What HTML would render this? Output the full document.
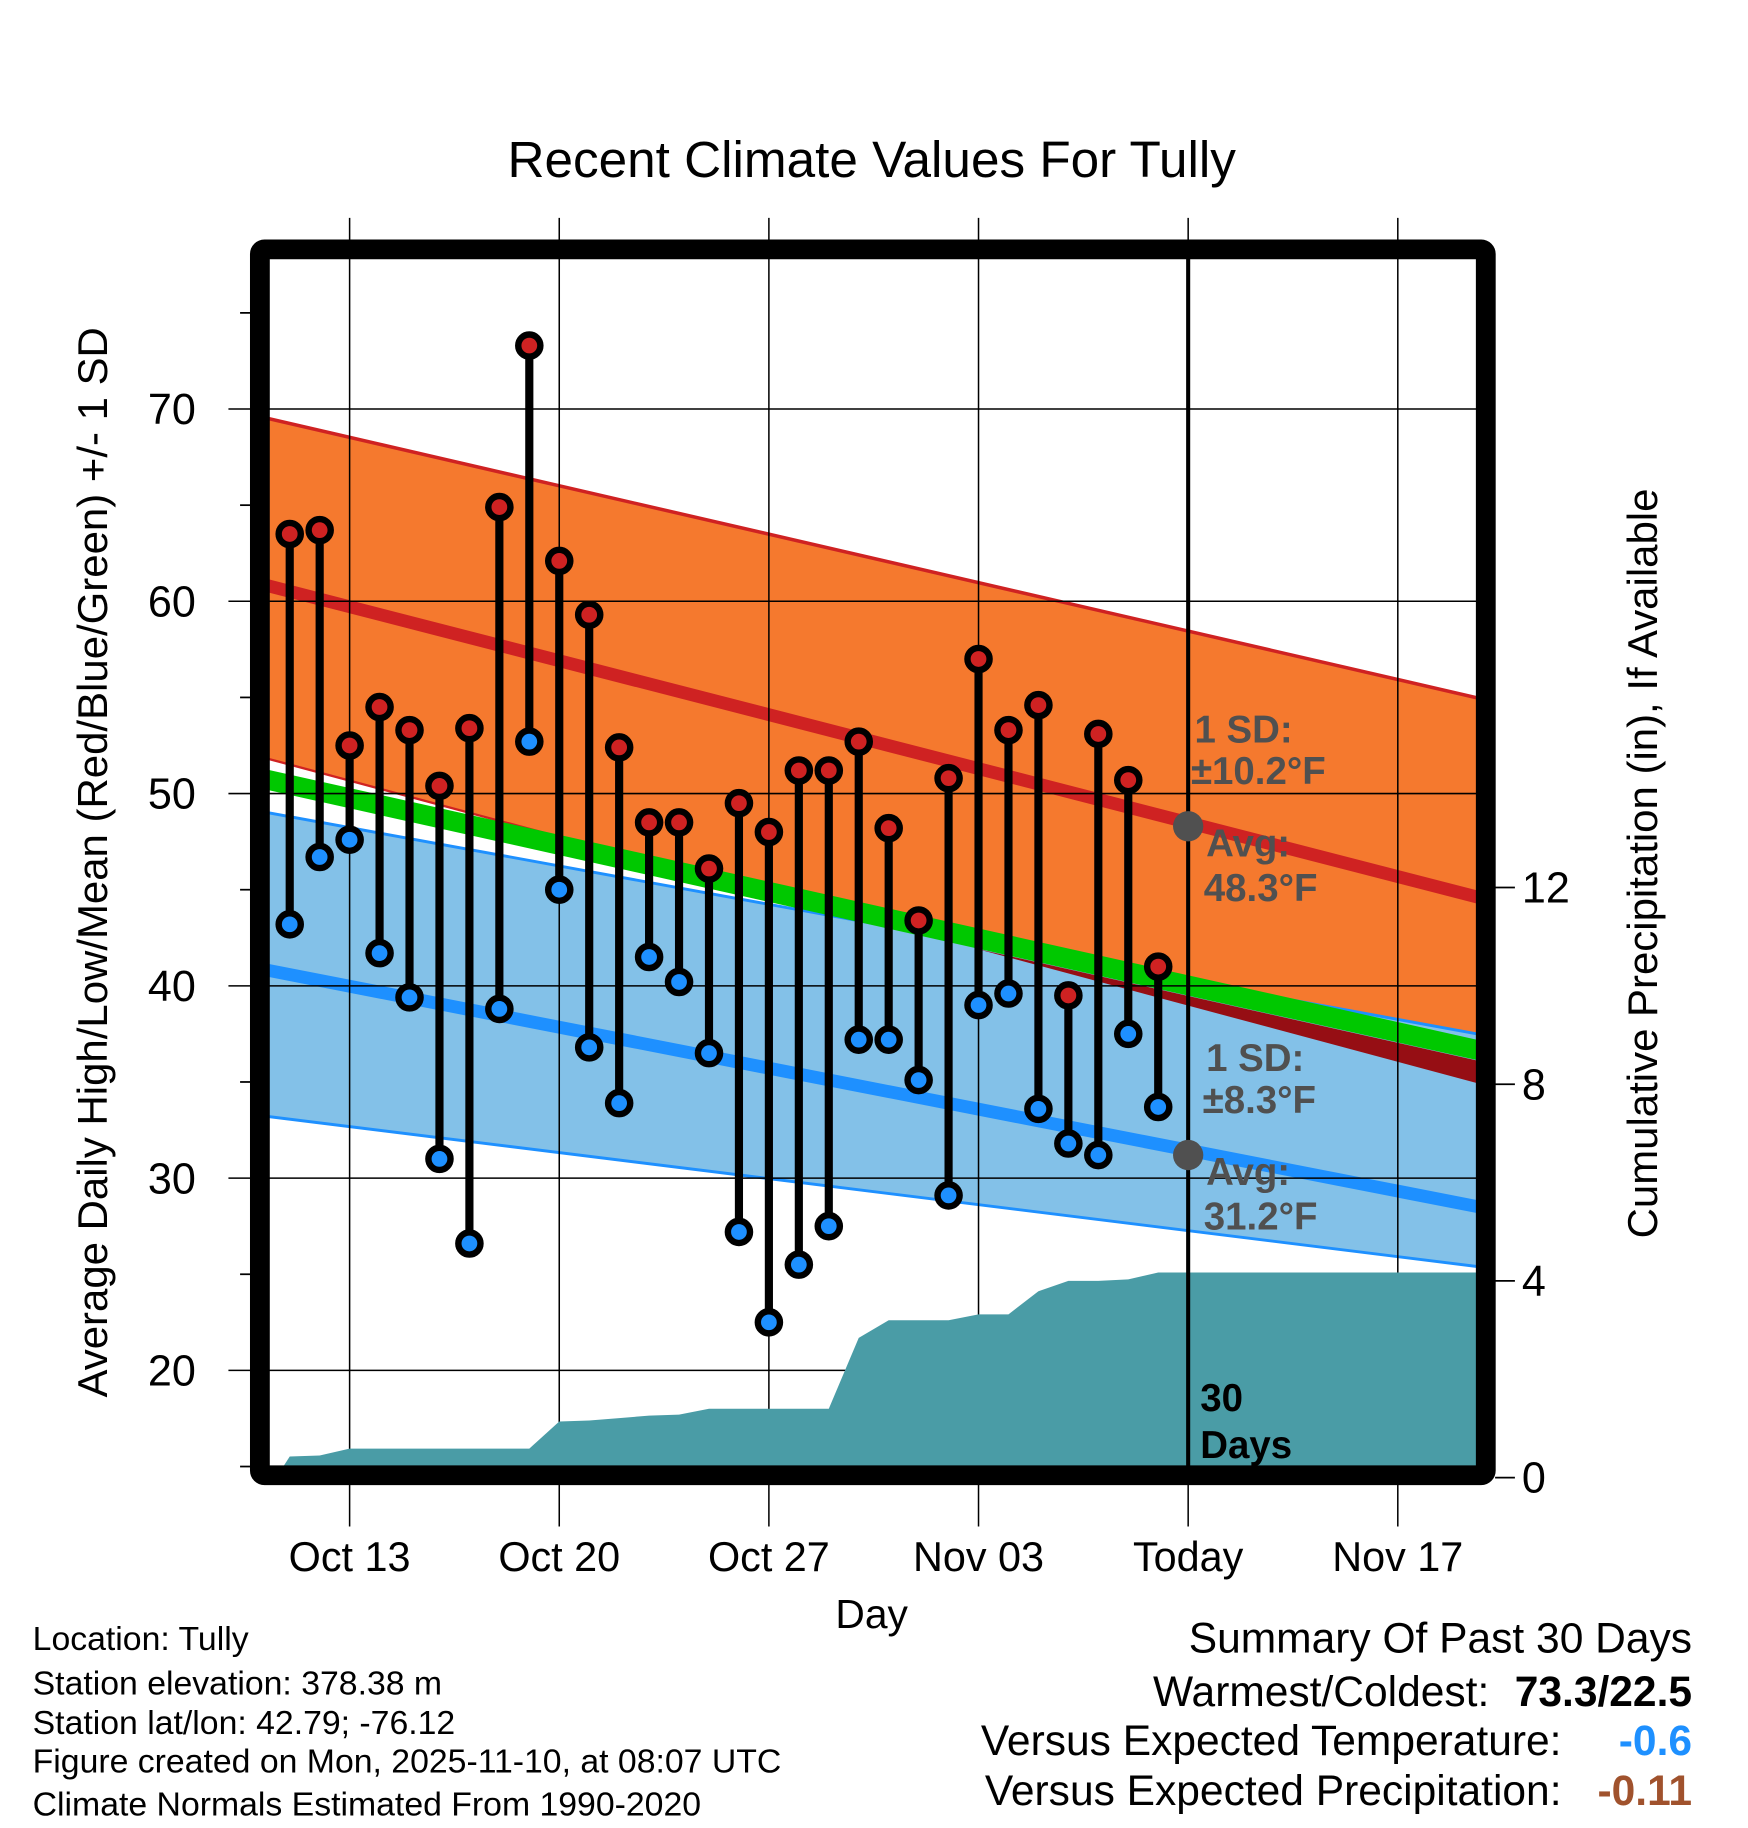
<!DOCTYPE html>
<html><head><meta charset="utf-8"><style>
html,body{margin:0;padding:0;background:#fff;}
svg{display:block;font-family:"Liberation Sans",Arial,sans-serif;}
</style></head>
<body>
<svg id="chart" width="1748" height="1828" viewBox="0 0 1500 1568.7" xmlns="http://www.w3.org/2000/svg">
<defs><clipPath id="plotclip"><rect x="231" y="222" width="1037" height="1036"/></clipPath></defs>
<g id="bands" clip-path="url(#plotclip)"></g>
<g id="grid"></g>
<g id="precip" clip-path="url(#plotclip)"></g>
<g id="marks"></g>
<g id="axes"></g>
<text x="748" y="152" text-anchor="middle" font-size="44">Recent Climate Values For Tully</text>
<text transform="translate(92,740) rotate(-90)" text-anchor="middle" font-size="36">Average Daily High/Low/Mean (Red/Blue/Green) +/- 1 SD</text>
<text transform="translate(1422,741) rotate(-90)" text-anchor="middle" font-size="36">Cumulative Precipitation (in), If Available</text>
<text x="748" y="1397" text-anchor="middle" font-size="35">Day</text>
<g font-size="29">
<text x="28" y="1416">Location: Tully</text>
<text x="28" y="1454">Station elevation: 378.38 m</text>
<text x="28" y="1488">Station lat/lon: 42.79; -76.12</text>
<text x="28" y="1521">Figure created on Mon, 2025-11-10, at 08:07 UTC</text>
<text x="28" y="1558">Climate Normals Estimated From 1990-2020</text>
</g>
<g font-size="36.5">
<text x="1452" y="1418" text-anchor="end">Summary Of Past 30 Days</text>
<text x="1278" y="1464" text-anchor="end">Warmest/Coldest:</text>
<text x="1452" y="1464" text-anchor="end" font-weight="bold">73.3/22.5</text>
<text x="1340" y="1506" text-anchor="end">Versus Expected Temperature:</text>
<text x="1452" y="1506" text-anchor="end" font-weight="bold" fill="#1e90ff">-0.6</text>
<text x="1340" y="1549" text-anchor="end">Versus Expected Precipitation:</text>
<text x="1452" y="1549" text-anchor="end" font-weight="bold" fill="#a0522d">-0.11</text>
</g>
</svg>
<script>
// ---- data ----
const days = ["Oct 11","Oct 12","Oct 13","Oct 14","Oct 15","Oct 16","Oct 17","Oct 18","Oct 19","Oct 20","Oct 21","Oct 22","Oct 23","Oct 24","Oct 25","Oct 26","Oct 27","Oct 28","Oct 29","Oct 30","Oct 31","Nov 01","Nov 02","Nov 03","Nov 04","Nov 05","Nov 06","Nov 07","Nov 08","Nov 09"];
const highs = [63.5,63.7,52.5,54.5,53.3,50.4,53.4,64.9,73.3,62.1,59.3,52.4,48.5,48.5,46.1,49.5,48.0,51.2,51.2,52.7,48.2,43.4,50.8,57.0,53.3,54.6,39.5,53.1,50.7,41.0];
const lows = [43.2,46.7,47.6,41.7,39.4,31.0,26.6,38.8,52.7,45.0,36.8,33.9,41.5,40.2,36.5,27.2,22.5,25.5,27.5,37.2,37.2,35.1,29.1,39.0,39.6,33.6,31.8,31.2,37.5,33.7];
const precipCum = [0.43,0.45,0.59,0.59,0.59,0.59,0.59,0.59,0.59,1.14,1.16,1.21,1.26,1.28,1.40,1.40,1.40,1.40,1.40,2.84,3.20,3.20,3.20,3.32,3.32,3.79,4.0,4.0,4.03,4.17];
const normEdges = [-0.7, 40.7];
const highSDTop = [69.5, 54.6];
const highMean = [60.8, 44.2];
const highSDLow = [51.8, 34.5];
const meanTemp = [50.7, 36.3];
const lowSDTop = [49.0, 37.2];
const lowMean = [40.8, 28.2];
const lowSDLow = [33.2, 25.2];
const yTicks = [20,30,40,50,60,70];
const yMinor = [15,25,35,45,55,65,75];
const pTicks = [0,4,8,12];
const xTickDays = [2,9,16,23,30,37];
const xTickLabels = ["Oct 13","Oct 20","Oct 27","Nov 03","Today","Nov 17"];
const todayDay = 30;
const todayHighMean = 48.3, todayLowMean = 31.2;

// ---- scales ----
const X = d => 248.6 + 25.7*d;
const Y = t => 681 - (t-50)*16.5;
const P = p => 1268 - p*42.2;
const L = 231, R = 1268, T = 222, B = 1258;
const NS = "http://www.w3.org/2000/svg";
function mk(parent, tag, attrs){const e=document.createElementNS(NS,tag);for(const k in attrs)e.setAttribute(k,attrs[k]);parent.appendChild(e);return e;}
const lineAt=(arr,x)=>{const x0=X(normEdges[0]),x1=X(normEdges[1]);return arr[0]+(arr[1]-arr[0])*(x-x0)/(x1-x0);};

// ---- bands ----
const bands=document.getElementById('bands');
const ex0=X(normEdges[0])-10, ex1=X(normEdges[1])+10;
function band(top,bot,fill,name){
  const p=mk(bands,'polygon',{points:`${ex0},${Y(lineAt(top,ex0))} ${ex1},${Y(lineAt(top,ex1))} ${ex1},${Y(lineAt(bot,ex1))} ${ex0},${Y(lineAt(bot,ex0))}`,fill:fill});
  
  
}
function nline(arr,stroke,w,name){
  const l=mk(bands,'line',{x1:ex0,y1:Y(lineAt(arr,ex0)),x2:ex1,y2:Y(lineAt(arr,ex1)),stroke:stroke,'stroke-width':w});
  
  
}
band(highSDTop,highSDLow,'#f5792e','high-sd-band');
nline(highSDLow,'#cf2222',2,'high-sd-low-edge');
band(lowSDTop,lowSDLow,'#83c1e8','low-sd-band');
nline(lowSDTop,'#1e90ff',2.5,'low-sd-top-edge');
nline(lowSDLow,'#1e90ff',2.5,'low-sd-low-edge');
{
  const gb=[meanTemp[0]-0.55,meanTemp[1]-0.55];
  const dl=highSDLow[0]-gb[0], dr=highSDLow[1]-gb[1];
  const f=dl/(dl-dr);
  const xc=ex0+(ex1-ex0)*f;
  const p=mk(bands,'polygon',{points:`${xc},${Y(lineAt(gb,xc))} ${ex1},${Y(lineAt(highSDLow,ex1))} ${ex1},${Y(lineAt(gb,ex1))}`,fill:'#960e14'});
  
  
}
nline(meanTemp,'#00c800',17,'mean-temp-line');
nline(highSDTop,'#cf2222',3,'high-sd-top-edge');
nline(highMean,'#cf2222',11,'high-mean-line');
nline(lowMean,'#1e90ff',11,'low-mean-line');

// ---- grid ----
const grid=document.getElementById('grid');
yTicks.forEach(t=>{
  const l=mk(grid,'line',{x1:196,y1:Y(t),x2:R,y2:Y(t),stroke:'#000','stroke-width':1.3});
  
  
});
xTickDays.forEach(d=>{
  const l=mk(grid,'line',{x1:X(d),y1:187,x2:X(d),y2:1310,stroke:'#000','stroke-width':1.3});
  
  
});

// ---- precip ----
const pg=document.getElementById('precip');
{
  let pts=`${X(-0.5)},${B+12} `;
  precipCum.forEach((v,i)=>{pts+=`${X(i)},${P(v)} `;});
  pts+=`${R+5},${P(precipCum[precipCum.length-1])} ${R+5},${B+12}`;
  const p=mk(pg,'polygon',{points:pts,fill:'#4a9ca6'});
  
  
}

// ---- marks ----
const mg=document.getElementById('marks');
{
  const tl=mk(mg,'line',{x1:X(todayDay),y1:T,x2:X(todayDay),y2:B,stroke:'#000','stroke-width':3.5});
  
  
}
highs.forEach((h,i)=>{
  const lo=lows[i];
  const s=mk(mg,'line',{x1:X(i),y1:Y(h),x2:X(i),y2:Y(lo),stroke:'#000','stroke-width':7});
  
  
  const hc=mk(mg,'circle',{cx:X(i),cy:Y(h),r:9.5,fill:'#cf2222',stroke:'#000','stroke-width':5.5});
  
  
  const lc=mk(mg,'circle',{cx:X(i),cy:Y(lo),r:9.5,fill:'#1e90ff',stroke:'#000','stroke-width':5.5});
  
  
});
[todayHighMean,todayLowMean].forEach(v=>{
  const c=mk(mg,'circle',{cx:X(todayDay),cy:Y(v),r:13,fill:'#505050'});
  
  
});
function lbl(txt,x,y,fill,name){
  const t=mk(mg,'text',{x:x,y:y,'font-size':33,'font-weight':'bold',fill:fill});
  t.textContent=txt;
  
  
}
lbl('1 SD:',1025,637,'#505050','high-sd-label');
lbl('±10.2°F',1022,673,'#505050','high-sd-value');
lbl('Avg:',1035,735,'#505050','high-avg-label');
lbl('48.3°F',1033,773,'#505050','high-avg-value');
lbl('1 SD:',1035,919,'#505050','low-sd-label');
lbl('±8.3°F',1032,955,'#505050','low-sd-value');
lbl('Avg:',1035,1017,'#505050','low-avg-label');
lbl('31.2°F',1033,1055,'#505050','low-avg-value');
lbl('30',1030,1211,'#000','days-count-label');
lbl('Days',1030,1251,'#000','days-label');

// ---- axes ----
const ax=document.getElementById('axes');
{
  const f=mk(ax,'rect',{x:223,y:214,width:1052,height:1052,fill:'none',stroke:'#000','stroke-width':17,rx:4});
  
  
}
yTicks.forEach(t=>{
  const e=mk(ax,'text',{x:168,y:Y(t)+13,'text-anchor':'end','font-size':37});
  e.textContent=t;
  
  
});
yMinor.forEach(t=>{
  const l=mk(ax,'line',{x1:206,y1:Y(t),x2:216,y2:Y(t),stroke:'#000','stroke-width':1.5});
  
  
});
pTicks.forEach(p=>{
  const l=mk(ax,'line',{x1:1283,y1:P(p),x2:1300,y2:P(p),stroke:'#000','stroke-width':1.5});
  
  
  const e=mk(ax,'text',{x:1306,y:P(p)+13,'font-size':37});
  e.textContent=p;
  
  
});
xTickDays.forEach((d,i)=>{
  const e=mk(ax,'text',{x:X(d),y:1348,'text-anchor':'middle','font-size':35.5});
  e.textContent=xTickLabels[i];
  
  
});
</script>
</body></html>
